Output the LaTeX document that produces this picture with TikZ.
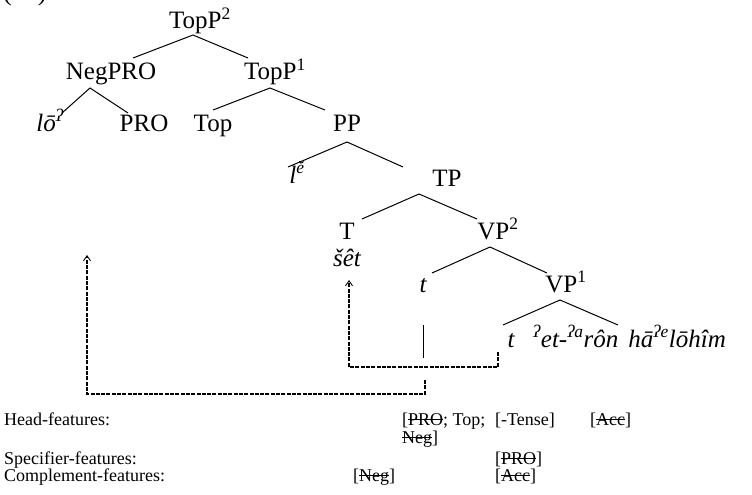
\documentclass[tikz,border=0pt]{standalone}
\usepackage{fontspec}
\setmainfont{Liberation Serif}
\usetikzlibrary{arrows.meta}
% struck-out feature: the text with a thin rule drawn through it
\newcommand\strk[1]{\setbox0\hbox{#1}\rlap{\rule[0.27em]{\wd0}{0.06em}}\box0}
\begin{document}
\begin{tikzpicture}[x=1pt,y=-1pt,
  lab/.style={anchor=base,inner sep=0pt,font=\fontsize{25}{28}\selectfont},
  feat/.style={anchor=base west,inner sep=0pt,font=\fontsize{18}{21}\selectfont},
  branch/.style={line width=1pt},
  move/.style={line width=1.1pt,dash pattern=on 4pt off 1.3pt},
  tip/.style={-{Straight Barb[length=5pt,width=7pt,line width=0.9pt]}}
]
\useasboundingbox (0,0) rectangle (752,495);

% example number (only its lower edge is on the page)
\node[anchor=base west,inner sep=0pt,font=\fontsize{26}{28}\selectfont] (exno) at (3,0.5) {(\phantom{00})};

% tree labels
\node[lab] (topp2) at (200,29) {TopP\textsuperscript{2}};
\node[lab] (negpro) at (111,80) {NegPRO};
\node[lab] (topp1) at (275,80) {TopP\textsuperscript{1}};
\node[lab] (lo) at (50,131) {\itshape lō\textsuperscript{ʔ}};
\node[lab] (pro) at (144,131) {PRO};
\node[lab] (top) at (213,131) {Top};
\node[lab] (pp) at (347,131) {PP};
\node[lab] (le) at (297,183) {\itshape l\textsuperscript{ĕ}};
\node[lab] (tp) at (447,186) {TP};
\node[lab] (T) at (347,239) {T};
\node[lab] (set) at (347,266) {\itshape šêt};
\node[lab] (vp2) at (498,239) {VP\textsuperscript{2}};
\node[lab] (trA) at (423,292) {\itshape t};
\node[lab] (vp1) at (566,292) {VP\textsuperscript{1}};
\node[lab] (trB) at (511,347) {\itshape t};
\node[lab,anchor=base west] (obj) at (533,347) {\itshape \textsuperscript{ʔ}et-\textsuperscript{ʔa}rôn\hspace{0.4em}hā\textsuperscript{ʔe}lōhîm};

% branch points
\coordinate (topp2-a) at (193,35);
\coordinate (negpro-a) at (90,88);
\coordinate (topp1-a) at (270,88);
\coordinate (pp-a) at (347,142);
\coordinate (tp-a) at (419,194);
\coordinate (vp2-a) at (490,247);
\coordinate (vp1-a) at (560,300);
% branch ends above the daughters
\coordinate (negpro-t) at (133,58);
\coordinate (topp1-t) at (248,58);
\coordinate (lo-t) at (62,113);
\coordinate (pro-t) at (128,113);
\coordinate (top-t) at (213,110);
\coordinate (pp-t) at (325,110);
\coordinate (le-t) at (288,167);
\coordinate (tp-t) at (403,167);
\coordinate (T-t) at (362,219);
\coordinate (vp2-t) at (477,219);
\coordinate (trA-t) at (432,273);
\coordinate (vp1-t) at (547,273);
\coordinate (trB-t) at (503,325);
\coordinate (obj-t) at (618,325);

\draw[branch] (negpro-t) -- (topp2-a) -- (topp1-t);
\draw[branch] (lo-t) -- (negpro-a) -- (pro-t);
\draw[branch] (top-t) -- (topp1-a) -- (pp-t);
\draw[branch] (le-t) -- (pp-a) -- (tp-t);
\draw[branch] (T-t) -- (tp-a) -- (vp2-t);
\draw[branch] (trA-t) -- (vp2-a) -- (vp1-t);
\draw[branch] (trB-t) -- (vp1-a) -- (obj-t);

% movement paths
\coordinate (trA-f) at (423,325);
\coordinate (trA-g) at (423,358);
\coordinate (trB-f) at (498,352);
\coordinate (set-end) at (349,280);
\coordinate (mv-f) at (425,380);
\coordinate (lo-end) at (87,255);

\draw[branch] (trA-f) -- (trA-g);
\draw[move,tip] (trB-f) -- ++(0,15) -| (set-end);
\draw[move,tip] (mv-f) -- ++(0,14) -| (lo-end);

% feature rows
\node[feat] (hf) at (4,425) {Head-features:};
\node[feat] (hf1) at (402,425) {[\strk{PRO}; Top;};
\node[feat] (hf1b) at (402,443) {\strk{Neg}]};
\node[feat] (hf2) at (495,425) {[-Tense]};
\node[feat] (hf3) at (590,425) {[\strk{Acc}]};
\node[feat] (sf) at (4,464) {Specifier-features:};
\node[feat] (sf2) at (495,464) {[\strk{PRO}]};
\node[feat] (cf) at (4,481) {Complement-features:};
\node[feat] (cf1) at (353,481) {[\strk{Neg}]};
\node[feat] (cf2) at (495,481) {[\strk{Acc}]};
\end{tikzpicture}
\end{document}
